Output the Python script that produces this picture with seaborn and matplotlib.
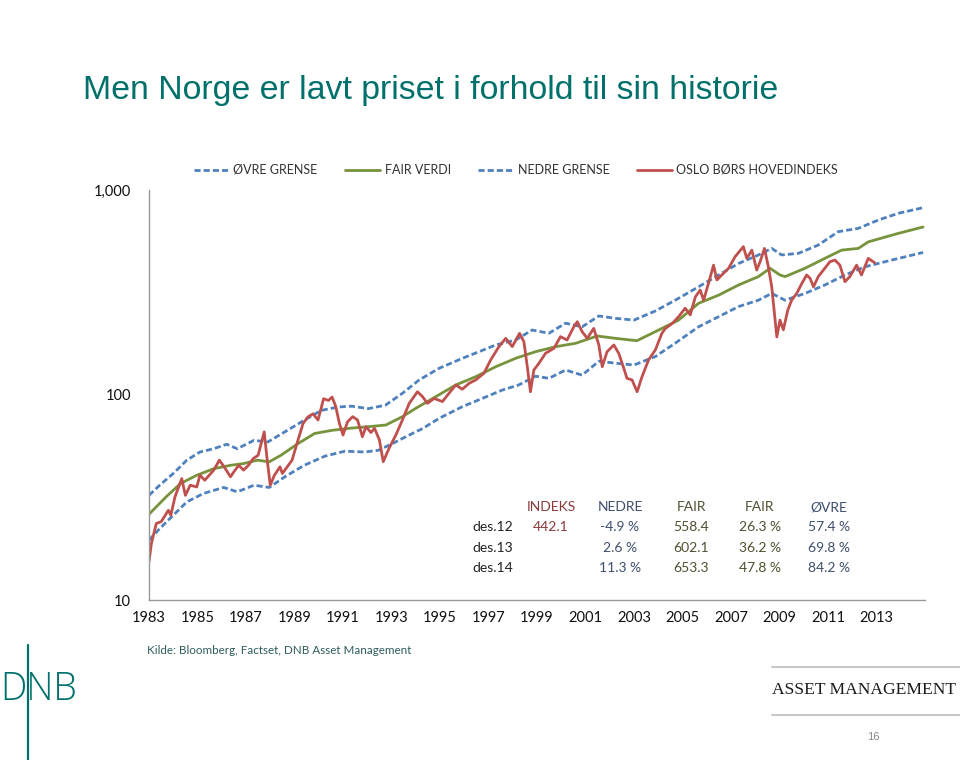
import matplotlib
matplotlib.use('Agg')
import matplotlib.pyplot as plt
import matplotlib.ticker as mticker
from matplotlib.lines import Line2D
import seaborn as sns

# Oslo Børs hovedindeks vs fair value band (log scale)
index_years = [1983.0, 1983.1, 1983.3, 1983.5, 1983.8, 1983.9, 1984.07, 1984.35, 1984.5, 1984.7,
               1984.97, 1985.1, 1985.3, 1985.67, 1985.9, 1986.1, 1986.36, 1986.5, 1986.7, 1986.9,
               1987.1, 1987.3, 1987.5, 1987.75, 1987.86, 1988.0, 1988.17, 1988.4, 1988.5, 1988.7,
               1988.9, 1989.1, 1989.35, 1989.55, 1989.76, 1989.97, 1990.2, 1990.4, 1990.55, 1990.7,
               1990.85, 1991.0, 1991.19, 1991.4, 1991.6, 1991.8, 1991.95, 1992.15, 1992.3, 1992.5,
               1992.66, 1992.9, 1993.18, 1993.45, 1993.73, 1994.07, 1994.28, 1994.48, 1994.76, 1995.1,
               1995.37, 1995.65, 1995.92, 1996.2, 1996.47, 1996.81, 1997.09, 1997.43, 1997.71, 1997.98,
               1998.28, 1998.46, 1998.6, 1998.73, 1998.87, 1999.08, 1999.35, 1999.7, 1999.97, 2000.24,
               2000.52, 2000.66, 2000.86, 2001.07, 2001.34, 2001.55, 2001.69, 2001.89, 2002.17, 2002.37,
               2002.58, 2002.71, 2002.92, 2003.13, 2003.33, 2003.6, 2003.88, 2004.15, 2004.29, 2004.57,
               2004.84, 2005.11, 2005.32, 2005.53, 2005.73, 2005.87, 2006.07, 2006.28, 2006.42, 2006.62,
               2006.9, 2007.17, 2007.51, 2007.65, 2007.86, 2008.06, 2008.2, 2008.38, 2008.54, 2008.68,
               2008.79, 2008.89, 2009.02, 2009.16, 2009.34, 2009.5, 2009.71, 2009.92, 2010.12, 2010.26,
               2010.4, 2010.6, 2010.81, 2011.08, 2011.29, 2011.49, 2011.7, 2011.9, 2012.18, 2012.38,
               2012.66, 2012.92]
index_vals = [15.4, 18.9, 23.6, 24.1, 27.4, 25.9, 31.8, 39.1, 32.4, 36.3,
              35.6, 40.6, 38.4, 43.0, 48.1, 44.6, 39.9, 42.2, 45.4, 43.0,
              45.4, 49.0, 50.8, 66.1, 49.9, 36.3, 40.6, 44.6, 41.4, 44.6,
              48.1, 57.9, 72.5, 78.1, 81.0, 75.5, 95.9, 94.1, 97.7, 88.0,
              72.8, 63.8, 74.1, 78.4, 75.5, 62.6, 70.1, 65.6, 68.8, 60.4,
              47.3, 55.0, 63.8, 75.5, 91.0, 103.7, 98.2, 91.0, 96.2, 92.9,
              101.9, 111.9, 106.7, 114.0, 118.4, 127.6, 148.3, 172.2, 188.9, 172.2,
              199.9, 182.0, 137.4, 103.7, 132.4, 142.8, 159.7, 169.0, 192.6, 185.5,
              215.4, 227.8, 203.8, 188.9, 211.3, 175.4, 137.4, 162.6, 175.4, 159.7,
              134.9, 120.6, 118.4, 103.7, 122.8, 148.3, 165.9, 199.9, 211.0, 223.0,
              241.0, 265.0, 246.0, 301.0, 325.0, 290.0, 350.0, 430.0, 364.0, 385.0,
              415.0, 473.0, 529.0, 464.0, 509.0, 407.0, 447.0, 519.0, 422.0, 337.0,
              250.0, 192.0, 232.0, 208.0, 259.0, 290.0, 313.0, 350.0, 385.0, 371.0,
              337.0, 378.0, 407.0, 447.0, 455.0, 430.0, 357.0, 378.0, 430.0, 385.0,
              464.0, 442.1]

upper_years = [1983.0, 1983.44, 1984.0, 1984.56, 1985.1, 1985.67, 1986.2, 1986.64, 1987.33, 1987.9,
               1988.6, 1989.4, 1990.1, 1990.8, 1991.36, 1992.05, 1992.75, 1993.45, 1994.14, 1994.96,
               1995.92, 1996.61, 1997.3, 1998.12, 1998.8, 1999.49, 2000.18, 2000.86, 2001.55, 2002.23,
               2003.0, 2003.88, 2004.7, 2005.66, 2006.49, 2007.31, 2008.13, 2008.68, 2009.09, 2009.78,
               2010.6, 2011.42, 2012.25, 2013.07, 2013.89, 2014.92]
upper_vals = [32.4, 36.3, 41.4, 48.1, 52.7, 54.7, 57.5, 54.7, 60.1, 59.0,
              66.1, 75.3, 84.1, 87.4, 88.2, 85.8, 89.2, 101.9, 118.4, 134.9,
              151.0, 162.6, 175.4, 185.5, 207.5, 200.0, 224.0, 215.0, 243.0, 236.6,
              232.0, 257.0, 290.0, 337.0, 385.0, 438.0, 482.0, 519.0, 482.0, 491.0,
              539.0, 626.0, 650.0, 713.0, 769.0, 820.0]

fair_years = [1983.0, 1983.7, 1984.3, 1984.97, 1985.67, 1986.36, 1986.9, 1987.47, 1987.96, 1988.44,
              1989.14, 1989.83, 1990.53, 1991.26, 1992.08, 1992.77, 1993.45, 1994.0, 1994.83, 1995.65,
              1996.47, 1997.3, 1998.12, 1998.94, 1999.76, 2000.59, 2001.48, 2002.23, 2003.12, 2004.02,
              2004.84, 2005.66, 2006.49, 2007.31, 2008.13, 2008.61, 2009.02, 2009.23, 2010.05, 2010.87,
              2011.56, 2012.25, 2012.66, 2013.89, 2014.92]
fair_vals = [26.2, 31.8, 37.0, 40.6, 43.7, 45.4, 46.3, 48.1, 47.2, 50.8,
             57.9, 64.9, 67.2, 68.8, 70.1, 71.4, 78.4, 86.1, 98.2, 111.9,
             122.8, 137.4, 151.0, 162.6, 172.0, 178.7, 194.0, 189.0, 184.0, 207.5,
             232.0, 280.0, 307.0, 344.0, 378.0, 415.0, 385.0, 378.0, 415.0, 464.0,
             509.0, 519.0, 558.4, 614.0, 660.0]

lower_years = [1983.0, 1983.44, 1984.0, 1984.56, 1985.25, 1986.08, 1986.64, 1987.33, 1987.96, 1988.6,
               1989.4, 1990.25, 1991.08, 1991.9, 1992.47, 1993.03, 1993.7, 1994.28, 1994.96, 1995.92,
               1996.75, 1997.57, 1998.25, 1998.94, 1999.49, 2000.18, 2000.86, 2001.55, 2002.23, 2003.0,
               2003.88, 2004.7, 2005.66, 2006.49, 2007.31, 2008.13, 2008.68, 2009.23, 2010.05, 2010.87,
               2011.7, 2012.52, 2013.62, 2014.92]
lower_vals = [19.6, 22.3, 25.9, 30.1, 33.1, 35.4, 33.7, 36.3, 35.4, 39.9,
              45.4, 50.3, 53.2, 52.7, 53.8, 57.9, 63.5, 68.6, 76.9, 87.7,
              96.3, 105.7, 112.0, 123.5, 120.6, 132.4, 125.0, 146.0, 143.0, 140.0,
              154.0, 179.0, 215.0, 241.0, 270.0, 290.0, 313.0, 290.0, 313.0, 344.0,
              385.0, 422.0, 455.0, 496.0]

legend_labels = ['ØVRE GRENSE', 'FAIR VERDI', 'NEDRE GRENSE', 'OSLO BØRS HOVEDINDEKS']
x_ticks = list(range(1983, 2014, 2))

# table in the lower right
tbl_header = ['INDEKS', 'NEDRE', 'FAIR', 'FAIR', 'ØVRE']
tbl_rows = ['des.12', 'des.13', 'des.14']
tbl_indeks = ['442.1', '', '']
tbl_nedre = ['-4.9 %', '2.6 %', '11.3 %']
tbl_fair = ['558.4', '602.1', '653.3']
tbl_fair_pct = ['26.3 %', '36.2 %', '47.8 %']
tbl_ovre = ['57.4 %', '69.8 %', '84.2 %']

sns.set_style('white')
plt.rcParams['font.family'] = ['Lato', 'DejaVu Sans']

BLUE = '#4f81bd'
GREEN = '#77933c'
RED = '#c0504d'
TEAL = '#00706a'

fig = plt.figure(figsize=(9.6, 7.6), dpi=100)
ax = fig.add_axes([149 / 960, 1 - 600 / 760, (925 - 149) / 960, (600 - 190) / 760])

dash = (0, (2.2, 1.1))
sns.lineplot(x=upper_years, y=upper_vals, ax=ax, color=BLUE, lw=2, linestyle=dash, errorbar=None)
sns.lineplot(x=fair_years, y=fair_vals, ax=ax, color=GREEN, lw=2, errorbar=None)
sns.lineplot(x=lower_years, y=lower_vals, ax=ax, color=BLUE, lw=2, linestyle=dash, errorbar=None)
sns.lineplot(x=index_years, y=index_vals, ax=ax, color=RED, lw=2, errorbar=None)

ax.set_yscale('log')
ax.set_ylim(10, 1000)
ax.set_xlim(1983, 2015)
ax.set_xticks(x_ticks)
ax.set_xticklabels([str(y) for y in x_ticks])
ax.yaxis.set_major_locator(mticker.FixedLocator([10, 100, 1000]))
ax.yaxis.set_minor_locator(mticker.NullLocator())
ax.yaxis.set_major_formatter(mticker.FuncFormatter(lambda v, p: f'{v:,.0f}'))
ax.tick_params(axis='x', direction='in', length=5, color='#999999', labelsize=10.5,
               labelcolor='#111111', pad=8)
ax.tick_params(axis='y', direction='out', length=5, color='#999999', labelsize=10.5,
               labelcolor='#111111', pad=8)
for side in ['top', 'right']:
    ax.spines[side].set_visible(False)
for side in ['left', 'bottom']:
    ax.spines[side].set_color('#999999')
    ax.spines[side].set_linewidth(1)
ax.set_xlabel('')
ax.set_ylabel('')

handles = [Line2D([], [], color=BLUE, lw=2, linestyle=dash),
           Line2D([], [], color=GREEN, lw=2),
           Line2D([], [], color=BLUE, lw=2, linestyle=dash),
           Line2D([], [], color=RED, lw=2)]
fig.legend(handles, legend_labels, loc='center', bbox_to_anchor=(516 / 960, 1 - 170 / 760),
           ncol=4, frameon=False, handlelength=2.8, handletextpad=0.35, columnspacing=2.2,
           fontsize=9, labelcolor='#333333')


def px(x, y):
    return x / 960, 1 - y / 760


# table
hdr_x = [551, 620, 691, 760, 829]
hdr_c = ['#8b3a3a', '#3d4f6b', '#4f4f30', '#4f4f30', '#3d4f6b']
for txt, x, c in zip(tbl_header, hdr_x, hdr_c):
    fig.text(*px(x, 507), txt, ha='center', va='center', fontsize=10, color=c)
row_y = [527, 548, 568]
cols = [tbl_indeks, tbl_nedre, tbl_fair, tbl_fair_pct, tbl_ovre]
for i, (lab, y) in enumerate(zip(tbl_rows, row_y)):
    fig.text(*px(513, y), lab, ha='right', va='center', fontsize=10, color='#222222')
    for col, x, c in zip(cols, hdr_x, hdr_c):
        fig.text(*px(x, y), col[i], ha='center', va='center', fontsize=10, color=c)

# title
fig.text(*px(83, 90), 'Men Norge er lavt priset i forhold til sin historie', ha='left', va='center',
         fontsize=24.4, color=TEAL, family=['Liberation Sans', 'DejaVu Sans'])

# footer
fig.text(*px(147, 651), 'Kilde: Bloomberg, Factset, DNB Asset Management', ha='left', va='center',
         fontsize=8.4, color='#2f5c5c')
fig.text(*px(0, 690), 'DNB', ha='left', va='center', fontsize=27, color=TEAL,
         family=['Open Sans', 'DejaVu Sans'], fontweight='light')
fig.add_artist(Line2D([28 / 960, 28 / 960], [1 - 645 / 760, 0], color=TEAL, lw=1.6))
fig.add_artist(Line2D([772 / 960, 1], [1 - 667 / 760, 1 - 667 / 760], color='#bbbbbb', lw=1.2))
fig.add_artist(Line2D([772 / 960, 1], [1 - 715 / 760, 1 - 715 / 760], color='#bbbbbb', lw=1.2))
fig.text(*px(772, 690), 'ASSET MANAGEMENT', ha='left', va='center', fontsize=12.6, color='#1a1a1a',
         family=['Liberation Serif', 'DejaVu Serif'])
fig.text(*px(873, 737), '16', ha='center', va='center', fontsize=8, color='#888888',
         family=['Liberation Sans', 'DejaVu Sans'])

fig.savefig('out.png', dpi=100)
